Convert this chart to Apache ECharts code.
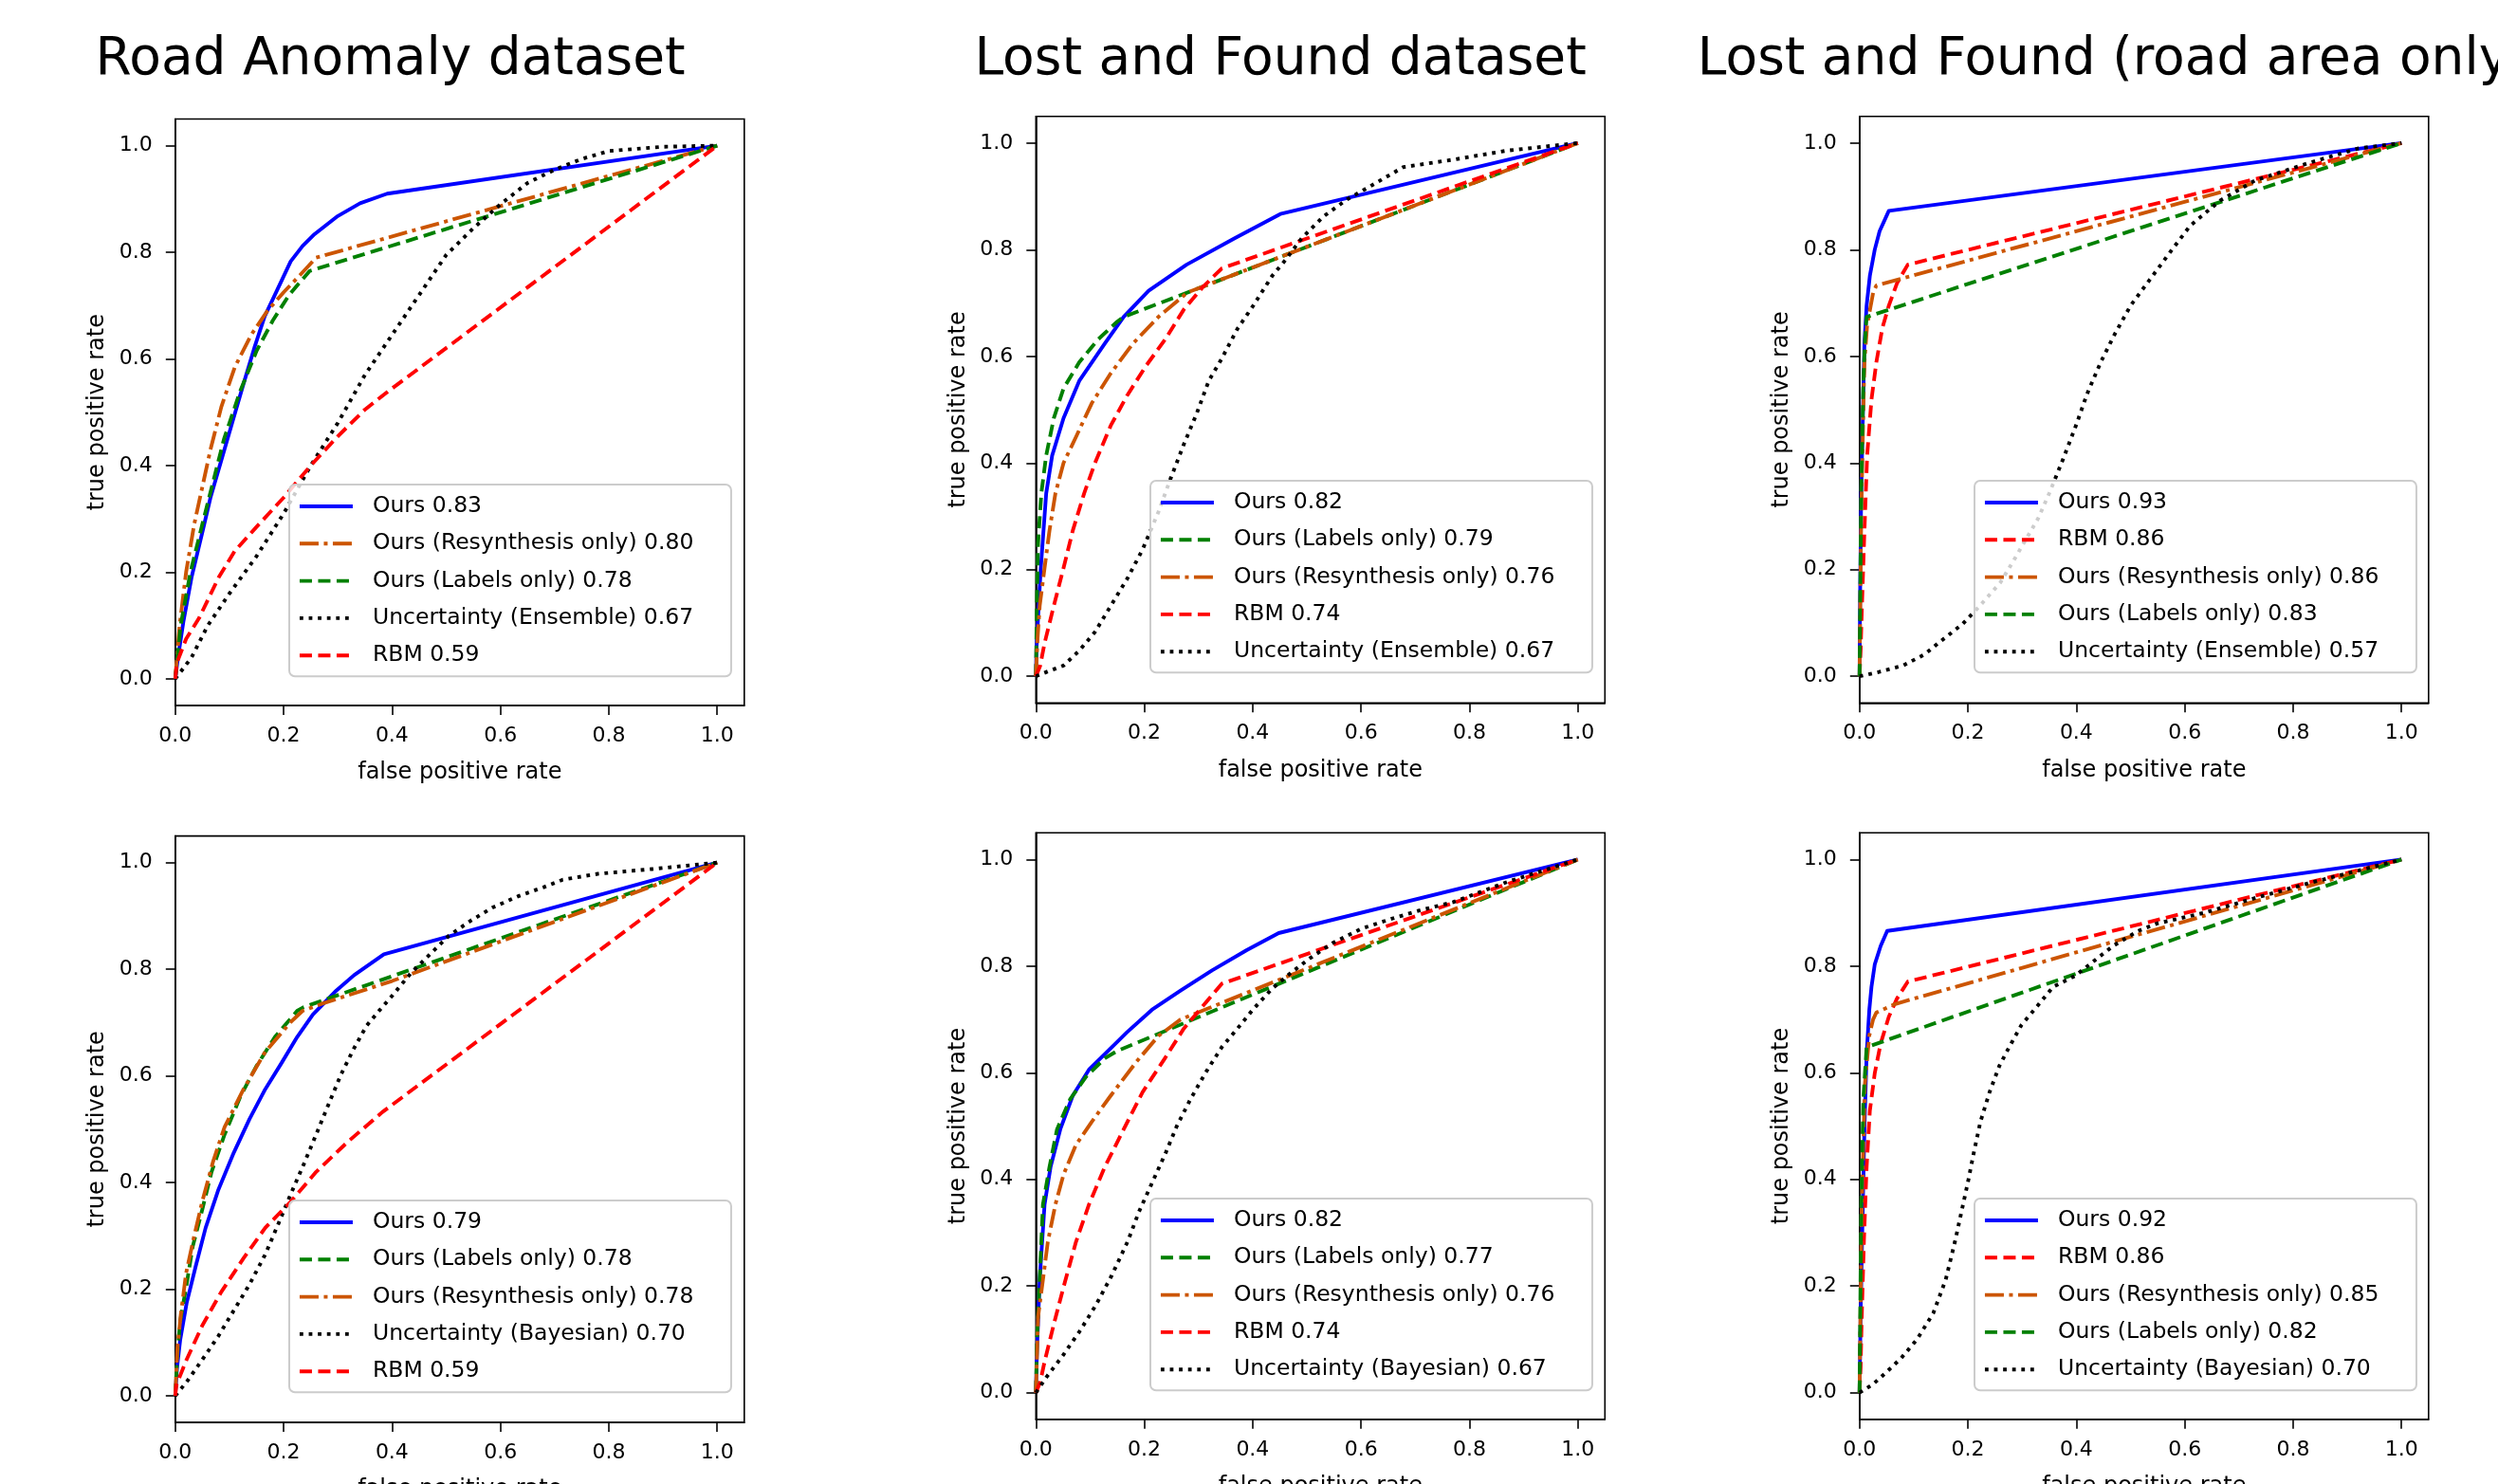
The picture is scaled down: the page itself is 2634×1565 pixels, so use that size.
<!DOCTYPE html>
<html>
<head>
<meta charset="utf-8">
<script src="https://cdn.jsdelivr.net/npm/echarts@6/dist/echarts.min.js"></script>
<style>
  html, body { margin: 0; padding: 0; background: #ffffff; }
  #chart { width: 2634px; height: 1565px; }
</style>
</head>
<body>
<div id="chart"></div>
<script>
// ---------------- DATA ----------------
const titles = ['Road Anomaly dataset', 'Lost and Found dataset', 'Lost and Found (road area only)'];
const tickValues = [0, 0.2, 0.4, 0.6, 0.8, 1.0];
const xName = 'false positive rate';
const yName = 'true positive rate';

// Panel 1: Road Anomaly (Ensemble)
const p1Names = ['Ours 0.83', 'Ours (Resynthesis only) 0.80', 'Ours (Labels only) 0.78', 'Uncertainty (Ensemble) 0.67', 'RBM 0.59'];
const p1Kinds = ['ours', 'resyn', 'labels', 'unc', 'rbm'];
const p1Ours = [[0,0],[0.005,0.04],[0.015,0.107],[0.03,0.19],[0.05,0.275],[0.065,0.34],[0.085,0.41],[0.105,0.48],[0.125,0.55],[0.146,0.621],[0.165,0.68],[0.187,0.727],[0.213,0.783],[0.235,0.812],[0.257,0.834],[0.3,0.868],[0.341,0.892],[0.391,0.91],[1,1]];
const p1Resyn = [[0,0],[0.008,0.1],[0.02,0.2],[0.035,0.29],[0.05,0.36],[0.065,0.43],[0.085,0.51],[0.11,0.585],[0.14,0.645],[0.17,0.69],[0.2,0.725],[0.23,0.757],[0.26,0.79],[1,1]];
const p1Labels = [[0,0],[0.01,0.1],[0.028,0.2],[0.05,0.29],[0.07,0.37],[0.09,0.45],[0.12,0.54],[0.15,0.615],[0.18,0.672],[0.21,0.72],[0.248,0.765],[1,1]];
const p1Unc = [[0,0],[0.03,0.04],[0.06,0.1],[0.1,0.16],[0.15,0.23],[0.2,0.31],[0.25,0.4],[0.3,0.48],[0.35,0.57],[0.4,0.645],[0.45,0.72],[0.5,0.795],[0.55,0.845],[0.6,0.89],[0.65,0.93],[0.7,0.955],[0.75,0.975],[0.8,0.99],[0.9,0.998],[1,1]];
const p1Rbm = [[0,0],[0.003,0.03],[0.02,0.075],[0.044,0.114],[0.08,0.19],[0.11,0.24],[0.15,0.285],[0.2,0.34],[0.25,0.4],[0.3,0.455],[0.35,0.505],[0.394,0.54],[1,1]];

// Panel 2: Lost and Found (Ensemble)
const p2Names = ['Ours 0.82', 'Ours (Labels only) 0.79', 'Ours (Resynthesis only) 0.76', 'RBM 0.74', 'Uncertainty (Ensemble) 0.67'];
const p2Kinds = ['ours', 'labels', 'resyn', 'rbm', 'unc'];
const p2Ours = [[0,0],[0.001,0.05],[0.005,0.13],[0.009,0.203],[0.019,0.343],[0.03,0.414],[0.051,0.484],[0.08,0.554],[0.127,0.624],[0.162,0.674],[0.208,0.723],[0.278,0.772],[0.366,0.821],[0.451,0.867],[1,1]];
const p2Labels = [[0,0],[0.002,0.15],[0.004,0.25],[0.01,0.343],[0.019,0.414],[0.033,0.484],[0.051,0.54],[0.08,0.589],[0.115,0.632],[0.15,0.665],[0.162,0.674],[1,1]];
const p2Resyn = [[0,0],[0.003,0.07],[0.007,0.132],[0.016,0.203],[0.025,0.273],[0.036,0.343],[0.051,0.4],[0.074,0.449],[0.103,0.512],[0.138,0.568],[0.179,0.624],[0.226,0.674],[0.28,0.72],[1,1]];
const p2Rbm = [[0,0],[0.008,0.02],[0.016,0.062],[0.033,0.132],[0.051,0.203],[0.068,0.273],[0.089,0.343],[0.109,0.4],[0.138,0.47],[0.168,0.526],[0.203,0.582],[0.238,0.631],[0.273,0.688],[0.308,0.73],[0.343,0.765],[1,1]];
const p2Unc = [[0,0],[0.022,0.009],[0.051,0.02],[0.08,0.048],[0.109,0.083],[0.138,0.132],[0.168,0.182],[0.197,0.238],[0.226,0.308],[0.249,0.372],[0.273,0.435],[0.296,0.491],[0.319,0.554],[0.343,0.596],[0.372,0.652],[0.401,0.695],[0.436,0.751],[0.46,0.78],[0.49,0.821],[0.53,0.862],[0.575,0.895],[0.61,0.915],[0.678,0.955],[0.77,0.969],[0.87,0.986],[1,1]];

// Panel 3: Lost and Found, road area only (Ensemble)
const p3Names = ['Ours 0.93', 'RBM 0.86', 'Ours (Resynthesis only) 0.86', 'Ours (Labels only) 0.83', 'Uncertainty (Ensemble) 0.57'];
const p3Kinds = ['ours', 'rbm', 'resyn', 'labels', 'unc'];
const p3Ours = [[0,0],[0.001,0.15],[0.003,0.343],[0.006,0.484],[0.009,0.624],[0.013,0.695],[0.019,0.751],[0.028,0.8],[0.037,0.835],[0.054,0.873],[1,1]];
const p3Rbm = [[0,0],[0.002,0.05],[0.0044,0.132],[0.009,0.273],[0.014,0.414],[0.022,0.519],[0.031,0.589],[0.042,0.653],[0.054,0.695],[0.069,0.737],[0.089,0.772],[1,1]];
const p3Resyn = [[0,0],[0.003,0.3],[0.007,0.5],[0.009,0.589],[0.014,0.659],[0.025,0.719],[0.031,0.733],[1,1]];
const p3Labels = [[0,0],[0.003,0.35],[0.007,0.55],[0.01,0.63],[0.013,0.674],[1,1]];
const p3Unc = [[0,0],[0.04,0.009],[0.08,0.02],[0.12,0.041],[0.15,0.066],[0.19,0.098],[0.22,0.13],[0.26,0.176],[0.29,0.227],[0.33,0.297],[0.35,0.343],[0.375,0.406],[0.4,0.472],[0.42,0.53],[0.445,0.589],[0.47,0.64],[0.5,0.695],[0.54,0.75],[0.575,0.798],[0.61,0.845],[0.665,0.892],[0.73,0.93],[0.83,0.963],[0.92,0.99],[1,1]];

// Panel 4: Road Anomaly (Bayesian)
const p4Names = ['Ours 0.79', 'Ours (Labels only) 0.78', 'Ours (Resynthesis only) 0.78', 'Uncertainty (Bayesian) 0.70', 'RBM 0.59'];
const p4Kinds = ['ours', 'labels', 'resyn', 'unc', 'rbm'];
const p4Ours = [[0,0],[0.003,0.05],[0.009,0.104],[0.021,0.174],[0.038,0.244],[0.056,0.315],[0.079,0.385],[0.108,0.456],[0.137,0.519],[0.166,0.575],[0.196,0.624],[0.225,0.673],[0.254,0.715],[0.295,0.758],[0.33,0.789],[0.385,0.828],[1,1]];
const p4Labels = [[0,0],[0.004,0.08],[0.009,0.139],[0.021,0.209],[0.032,0.279],[0.05,0.35],[0.067,0.42],[0.091,0.49],[0.12,0.561],[0.149,0.617],[0.184,0.673],[0.225,0.722],[0.237,0.729],[1,1]];
const p4Resyn = [[0,0],[0.004,0.09],[0.01,0.15],[0.02,0.23],[0.035,0.3],[0.05,0.365],[0.07,0.44],[0.091,0.504],[0.126,0.575],[0.166,0.645],[0.213,0.701],[0.235,0.722],[0.27,0.735],[0.4,0.778],[1,1]];
const p4Unc = [[0,0],[0.021,0.026],[0.05,0.068],[0.079,0.111],[0.108,0.16],[0.137,0.209],[0.166,0.265],[0.19,0.322],[0.213,0.378],[0.237,0.434],[0.26,0.49],[0.283,0.547],[0.306,0.603],[0.33,0.652],[0.353,0.694],[0.376,0.722],[0.4,0.75],[0.435,0.793],[0.47,0.828],[0.505,0.863],[0.545,0.891],[0.586,0.916],[0.633,0.937],[0.68,0.954],[0.715,0.968],[0.78,0.979],[0.88,0.988],[1,1]];
const p4Rbm = [[0,0],[0.002,0.02],[0.021,0.068],[0.05,0.132],[0.085,0.195],[0.126,0.258],[0.166,0.315],[0.213,0.364],[0.26,0.42],[0.318,0.476],[0.382,0.532],[1,1]];

// Panel 5: Lost and Found (Bayesian)
const p5Names = ['Ours 0.82', 'Ours (Labels only) 0.77', 'Ours (Resynthesis only) 0.76', 'RBM 0.74', 'Uncertainty (Bayesian) 0.67'];
const p5Kinds = ['ours', 'labels', 'resyn', 'rbm', 'unc'];
const p5Ours = [[0,0],[0.002,0.08],[0.007,0.212],[0.016,0.353],[0.027,0.423],[0.045,0.494],[0.068,0.557],[0.098,0.606],[0.133,0.641],[0.168,0.676],[0.214,0.718],[0.267,0.754],[0.325,0.792],[0.389,0.83],[0.448,0.862],[1,1]];
const p5Labels = [[0,0],[0.002,0.1],[0.007,0.212],[0.013,0.353],[0.025,0.423],[0.039,0.494],[0.063,0.55],[0.092,0.592],[0.127,0.627],[0.15,0.641],[1,1]];
const p5Resyn = [[0,0],[0.002,0.07],[0.004,0.142],[0.013,0.212],[0.022,0.283],[0.036,0.353],[0.051,0.409],[0.074,0.465],[0.103,0.508],[0.138,0.557],[0.185,0.62],[0.226,0.669],[0.267,0.7],[1,1]];
const p5Rbm = [[0,0],[0.008,0.02],[0.016,0.058],[0.033,0.128],[0.051,0.198],[0.074,0.283],[0.098,0.353],[0.127,0.423],[0.162,0.494],[0.197,0.564],[0.238,0.627],[0.273,0.683],[0.308,0.725],[0.343,0.767],[1,1]];
const p5Unc = [[0,0],[0.02,0.03],[0.05,0.07],[0.08,0.114],[0.11,0.163],[0.14,0.22],[0.17,0.285],[0.19,0.339],[0.215,0.395],[0.24,0.451],[0.26,0.5],[0.285,0.55],[0.313,0.6],[0.343,0.648],[0.372,0.683],[0.4,0.718],[0.436,0.758],[0.47,0.787],[0.506,0.815],[0.547,0.843],[0.6,0.87],[0.66,0.89],[0.71,0.905],[0.77,0.92],[0.87,0.958],[1,1]];

// Panel 6: Lost and Found, road area only (Bayesian)
const p6Names = ['Ours 0.92', 'RBM 0.86', 'Ours (Resynthesis only) 0.85', 'Ours (Labels only) 0.82', 'Uncertainty (Bayesian) 0.70'];
const p6Kinds = ['ours', 'rbm', 'resyn', 'labels', 'unc'];
const p6Ours = [[0,0],[0.002,0.15],[0.006,0.353],[0.009,0.494],[0.013,0.634],[0.018,0.718],[0.022,0.761],[0.028,0.803],[0.039,0.838],[0.051,0.866],[1,1]];
const p6Rbm = [[0,0],[0.002,0.05],[0.004,0.142],[0.008,0.283],[0.013,0.423],[0.019,0.529],[0.028,0.599],[0.039,0.655],[0.054,0.705],[0.069,0.739],[0.089,0.771],[1,1]];
const p6Resyn = [[0,0],[0.004,0.35],[0.01,0.58],[0.018,0.67],[0.025,0.7],[0.031,0.713],[0.066,0.729],[1,1]];
const p6Labels = [[0,0],[0.003,0.35],[0.007,0.55],[0.013,0.648],[1,1]];
const p6Unc = [[0,0],[0.025,0.016],[0.048,0.037],[0.077,0.065],[0.106,0.1],[0.136,0.149],[0.159,0.212],[0.176,0.283],[0.188,0.339],[0.2,0.395],[0.211,0.451],[0.223,0.508],[0.24,0.564],[0.258,0.613],[0.276,0.648],[0.299,0.69],[0.328,0.725],[0.357,0.761],[0.398,0.782],[0.433,0.81],[0.468,0.838],[0.514,0.866],[0.549,0.88],[0.636,0.9],[0.731,0.928],[0.827,0.955],[1,1]];

// ---------------- STYLE / LAYOUT ----------------
const FONT = 'DejaVu Sans';
const LINE_W = 3.9;
const kindStyle = {
  ours:   { color: '#0000ff', type: 'solid' },
  resyn:  { color: '#cc5500', type: [20, 5.5, 4, 5.5] },
  labels: { color: '#008000', type: [13, 6.5] },
  unc:    { color: '#000000', type: [3.8, 5.8] },
  rbm:    { color: '#ff0000', type: [13, 6.5] }
};
const panels = [
  { names: p1Names, kinds: p1Kinds, data: [p1Ours, p1Resyn, p1Labels, p1Unc, p1Rbm] },
  { names: p2Names, kinds: p2Kinds, data: [p2Ours, p2Labels, p2Resyn, p2Rbm, p2Unc] },
  { names: p3Names, kinds: p3Kinds, data: [p3Ours, p3Rbm, p3Resyn, p3Labels, p3Unc] },
  { names: p4Names, kinds: p4Kinds, data: [p4Ours, p4Labels, p4Resyn, p4Unc, p4Rbm] },
  { names: p5Names, kinds: p5Kinds, data: [p5Ours, p5Labels, p5Resyn, p5Rbm, p5Unc] },
  { names: p6Names, kinds: p6Kinds, data: [p6Ours, p6Rbm, p6Resyn, p6Labels, p6Unc] }
];
const gridPos = [[184.8, 125.5], [1092.3, 122.8], [1960.8, 122.8], [184.8, 881.6], [1092.3, 878.3], [1960.8, 878.3]];
const GRID_W = 600, GRID_H = 618.5;
const legendPos = [[305, 511], [1213, 507], [2082, 507], [305, 1266], [1213, 1264], [2082, 1264]];
const titleLeft = [100.5, 1027.4, 1789.8];

const grids = [], xAxes = [], yAxes = [], legends = [], series = [];
panels.forEach((p, i) => {
  grids.push({
    left: gridPos[i][0], top: gridPos[i][1], width: GRID_W, height: GRID_H,
    containLabel: false, outerBoundsMode: 'none',
    show: true, borderColor: '#000', borderWidth: 1.6, backgroundColor: 'transparent'
  });
  const axisCommon = {
    type: 'value', gridIndex: i,
    splitLine: { show: false },
    axisLine: { show: true, onZero: false, lineStyle: { color: '#000', width: 1.6 } },
    axisTick: { show: true, inside: false, length: 10, customValues: tickValues, lineStyle: { color: '#000', width: 1.6 } },
    nameLocation: 'middle',
    nameTextStyle: { fontFamily: FONT, fontSize: 24, color: '#000' }
  };
  xAxes.push(Object.assign({}, axisCommon, {
    min: 0, max: 1.05, name: xName, nameGap: 59,
    axisLabel: { customValues: tickValues, formatter: v => v.toFixed(1), fontFamily: FONT, fontSize: 22, color: '#000', margin: 21 }
  }));
  yAxes.push(Object.assign({}, axisCommon, {
    min: -0.05, max: 1.05, name: yName, nameGap: 70,
    axisLabel: { customValues: tickValues, formatter: v => v.toFixed(1), fontFamily: FONT, fontSize: 22, color: '#000', margin: 24 }
  }));
  p.names.forEach((nm, k) => {
    const st = kindStyle[p.kinds[k]];
    series.push({
      type: 'line', name: nm, xAxisIndex: i, yAxisIndex: i,
      data: p.data[k], showSymbol: false, symbol: 'none', smooth: false,
      animation: false, silent: true, z: 2 + k * 0.01,
      itemStyle: { color: st.color },
      lineStyle: { color: st.color, width: LINE_W, type: st.type, cap: 'butt', join: 'round' }
    });
  });
  legends.push({
    orient: 'vertical', left: legendPos[i][0], top: legendPos[i][1],
    data: p.names, selectedMode: false,
    itemWidth: 56, itemHeight: 30, itemGap: 9.3,
    padding: [8, 8, 7, 9],
    backgroundColor: 'rgba(255,255,255,0.8)', borderColor: '#cccccc', borderWidth: 2, borderRadius: 6,
    itemStyle: { opacity: 0 },
    lineStyle: { width: LINE_W },
    textStyle: { fontFamily: FONT, fontSize: 23.5, color: '#000', lineHeight: 30, width: 370, padding: [0, 0, 0, 16] }
  });
});

const titleComps = titles.map((t, i) => ({
  text: t, left: titleLeft[i], top: 36, padding: 0,
  textStyle: { fontFamily: FONT, fontSize: 55, fontWeight: 'normal', color: '#000', lineHeight: 55 }
}));

const chart = echarts.init(document.getElementById('chart'), null, { renderer: 'canvas' });
chart.setOption({
  backgroundColor: '#ffffff',
  animation: false,
  title: titleComps,
  grid: grids,
  xAxis: xAxes,
  yAxis: yAxes,
  legend: legends,
  series: series
});
</script>
</body>
</html>
